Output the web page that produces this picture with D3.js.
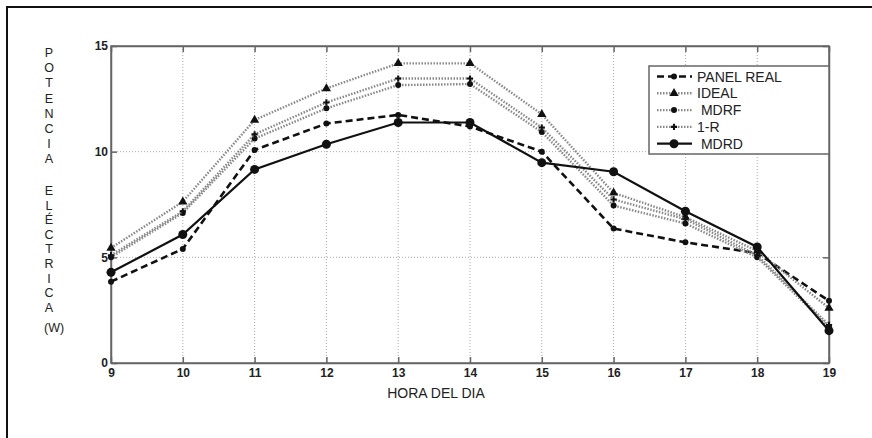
<!DOCTYPE html>
<html>
	<head>
		<meta charset="utf-8"/>
		<script type="text/javascript" src="https://cdn.jsdelivr.net/npm/d3@7/dist/d3.min.js"></script>
		<style>
			body { margin:0; background:#fff; }
			text { font-family:"Liberation Sans", Arial, sans-serif; fill:#222; }
			.tick text { font-size:12px; font-weight:bold; }
			.grid line { stroke:#aaa; stroke-width:1; stroke-dasharray:1,2; }
		</style>
	</head>
	<body>
		<script>
			var hours = [9, 10, 11, 12, 13, 14, 15, 16, 17, 18, 19];
			var panelReal = [3.85, 5.4, 10.08, 11.33, 11.74, 11.19, 10.0, 6.36, 5.71, 5.2, 2.94];
			var ideal     = [5.44, 7.63, 11.5, 12.99, 14.18, 14.18, 11.77, 8.05, 6.9, 5.3, 2.6];
			var mdrf      = [5.0, 7.1, 10.62, 12.05, 13.15, 13.2, 10.93, 7.45, 6.6, 5.0, 1.7];
			var oneR      = [5.1, 7.18, 10.82, 12.33, 13.46, 13.46, 11.14, 7.74, 6.8, 5.1, 1.8];
			var mdrd      = [4.29, 6.08, 9.16, 10.35, 11.38, 11.38, 9.48, 9.05, 7.18, 5.49, 1.53];
			var yTicks = [0, 5, 10, 15];
			var seriesNames = ["PANEL REAL", "IDEAL", " MDRF", "1-R", " MDRD"];

			var width = 872, height = 438;
			var pLeft = 111, pRight = 829, pTop = 46, pBottom = 363;

			var svg = d3.select("body").append("svg")
				.attr("width", width)
				.attr("height", height);

			// outer frame
			svg.append("rect")
				.attr("x", 7).attr("y", 7)
				.attr("width", 880).attr("height", 450)
				.attr("fill", "none").attr("stroke", "#111").attr("stroke-width", 2);

			var x = d3.scaleLinear().domain([9, 19]).range([pLeft, pRight]);
			var y = d3.scaleLinear().domain([0, 15]).range([pBottom, pTop]);

			// grid
			var grid = svg.append("g").attr("class", "grid");
			grid.selectAll(".gx").data(hours.slice(1, -1)).enter().append("line")
				.attr("x1", d => x(d)).attr("x2", d => x(d))
				.attr("y1", pTop).attr("y2", pBottom);
			grid.selectAll(".gy").data(yTicks.slice(1, -1)).enter().append("line")
				.attr("x1", pLeft).attr("x2", pRight)
				.attr("y1", d => y(d)).attr("y2", d => y(d));

			// axes with inward ticks
			var xAxis = svg.append("g")
				.attr("transform", "translate(0," + pBottom + ")")
				.call(d3.axisBottom(x).tickValues(hours).tickSizeInner(-6).tickSizeOuter(0).tickPadding(5));
			var yAxis = svg.append("g")
				.attr("transform", "translate(" + pLeft + ",0)")
				.call(d3.axisLeft(y).tickValues(yTicks).tickSizeInner(-6).tickSizeOuter(0).tickPadding(3));
			svg.append("g")
				.attr("transform", "translate(0," + pTop + ")")
				.call(d3.axisTop(x).tickValues(hours).tickSizeInner(-6).tickSizeOuter(0).tickFormat(""));
			svg.append("g")
				.attr("transform", "translate(" + pRight + ",0)")
				.call(d3.axisRight(y).tickValues(yTicks).tickSizeInner(-6).tickSizeOuter(0).tickFormat(""));
			svg.selectAll(".domain, .tick line").attr("stroke", "#666").attr("stroke-width", 1.5);
			svg.selectAll(".tick text").attr("fill", "#222");

			svg.append("rect")
				.attr("x", pLeft).attr("y", pTop)
				.attr("width", pRight - pLeft).attr("height", pBottom - pTop)
				.attr("fill", "none").attr("stroke", "#666").attr("stroke-width", 1.5);

			// axis titles
			svg.append("text")
				.attr("x", 436).attr("y", 398)
				.attr("text-anchor", "middle")
				.style("font-size", "14px")
				.text("HORA DEL DIA");

			var yLetters = "POTENCIA".split("");
			var yLetters2 = "ELÉCTRICA".split("");
			svg.selectAll(".yl1").data(yLetters).enter().append("text")
				.attr("x", 49).attr("y", (d, i) => 57 + i * 15.2)
				.attr("text-anchor", "middle")
				.style("font-size", "12.5px")
				.text(d => d);
			svg.selectAll(".yl2").data(yLetters2).enter().append("text")
				.attr("x", 49).attr("y", (d, i) => 195 + i * 14.6)
				.attr("text-anchor", "middle")
				.style("font-size", "12.5px")
				.text(d => d);
			svg.append("text")
				.attr("x", 44).attr("y", 332)
				.style("font-size", "12.5px")
				.text("(W)");

			// series
			var series = [
				{name: seriesNames[0], values: panelReal, color: "#111", width: 2.6, dash: "7,4", marker: "circle", size: 3},
				{name: seriesNames[1], values: ideal, color: "#888", width: 2.4, dash: "1.5,1.5", marker: "triangle", size: 3.4},
				{name: seriesNames[2], values: mdrf, color: "#888", width: 2.4, dash: "1.5,1.5", marker: "circle", size: 3},
				{name: seriesNames[3], values: oneR, color: "#888", width: 2.4, dash: "1.5,1.5", marker: "cross", size: 3},
				{name: seriesNames[4], values: mdrd, color: "#111", width: 2.2, dash: null, marker: "circle", size: 4.5}
			];

			var line = d3.line()
				.x((d, i) => x(hours[i]))
				.y(d => y(d));

			function drawMarker(g, type, size) {
				if (type === "circle") {
					g.append("circle").attr("r", size).attr("fill", "#111");
				} else if (type === "triangle") {
					g.append("path")
						.attr("d", d3.symbol().type(d3.symbolTriangle).size(size * size * 3.2)())
						.attr("fill", "#111");
				} else {
					g.append("path")
						.attr("d", d3.symbol().type(d3.symbolCross).size(size * size * 2.4)())
						.attr("fill", "#111");
				}
			}

			series.forEach(function(s) {
				svg.append("path")
					.datum(s.values)
					.attr("fill", "none")
					.attr("stroke", s.color)
					.attr("stroke-width", s.width)
					.attr("stroke-dasharray", s.dash)
					.attr("d", line);
				svg.selectAll(null).data(s.values).enter().append("g")
					.attr("transform", (d, i) => "translate(" + x(hours[i]) + "," + y(d) + ")")
					.each(function() { drawMarker(d3.select(this), s.marker, s.size); });
			});

			// legend
			var legend = svg.append("g").attr("transform", "translate(649,66)");
			legend.append("rect")
				.attr("width", 180).attr("height", 88)
				.attr("fill", "#fff").attr("stroke", "#666").attr("stroke-width", 1.5);
			series.forEach(function(s, i) {
				var ly = 10.5 + i * 16.8;
				legend.append("line")
					.attr("x1", 8).attr("x2", 43)
					.attr("y1", ly).attr("y2", ly)
					.attr("stroke", s.color)
					.attr("stroke-width", s.width)
					.attr("stroke-dasharray", s.dash);
				var m = legend.append("g").attr("transform", "translate(25," + ly + ")");
				drawMarker(m, s.marker, s.size);
				legend.append("text")
					.attr("x", 48).attr("y", ly + 5)
					.style("font-size", "14px")
					.style("white-space", "pre")
					.text(s.name);
			});
		</script>
	</body>
</html>
